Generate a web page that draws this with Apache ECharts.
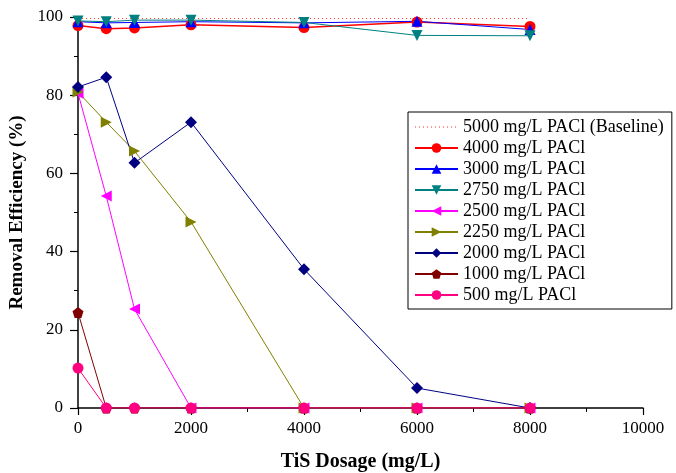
<!DOCTYPE html>
<html>
<head>
<meta charset="utf-8">
<script src="https://cdn.jsdelivr.net/npm/echarts@6/dist/echarts.min.js"></script>
<style>
  html, body { margin: 0; padding: 0; background: #fff; }
  #chart { width: 676px; height: 473px; }
</style>
</head>
<body>
<div id="chart"></div>
<script>
const dosages = [0, 500, 1000, 2000, 4000, 6000, 8000]

const baseline5000 = [99.6, 99.6, 99.6, 99.6, 99.6, 99.6, 99.6]
const pacl4000 = [97.8, 97.0, 97.2, 98.0, 97.3, 98.7, 97.6]
const pacl3000 = [98.8, 98.5, 98.6, 98.8, 98.5, 98.9, 96.8]
const pacl2750 = [99.0, 98.8, 99.2, 99.2, 98.6, 95.3, 95.2]
const pacl2500 = [80.5, 54.2, 25.3, 0, 0, 0, 0]
const pacl2250 = [80.8, 73.1, 65.7, 47.6, 0, 0, 0]
const pacl2000 = [82.1, 84.6, 62.7, 73.1, 35.5, 5.1, 0]
const pacl1000 = [24.4, 0, 0, 0, 0, 0, 0]
const pacl500 = [10.2, 0, 0, 0, 0, 0, 0]

const FONT = '"Liberation Serif", "Times New Roman", serif'
const PENTAGON = 'path://M0,-1 L0.951,-0.309 L0.588,0.809 L-0.588,0.809 L-0.951,-0.309 Z'
const BASE_RED = '#ff3030'

function pairs(vals) {
  return dosages.map((d, i) => [d, vals[i]])
}

function lineSeries(name, vals, color, symbol, rotate, size) {
  return {
    name,
    type: 'line',
    data: pairs(vals),
    symbol,
    symbolRotate: rotate || 0,
    symbolSize: size || 11,
    lineStyle: { width: 1, color },
    itemStyle: { color },
    emphasis: { disabled: true },
    animation: false
  }
}

const series = [
  {
    name: '5000 mg/L PACl (Baseline)',
    type: 'line',
    data: pairs(baseline5000),
    symbol: 'none',
    lineStyle: { width: 1, type: [1, 3], color: BASE_RED },
    itemStyle: { color: BASE_RED },
    animation: false
  },
  lineSeries('4000 mg/L PACl', pacl4000, '#ff0000', 'circle', 0, 11),
  lineSeries('3000 mg/L PACl', pacl3000, '#0000ff', 'triangle', 0, 11),
  lineSeries('2750 mg/L PACl', pacl2750, '#008080', 'triangle', 180, 11),
  lineSeries('2500 mg/L PACl', pacl2500, '#ff00ff', 'triangle', 90, 11),
  lineSeries('2250 mg/L PACl', pacl2250, '#808000', 'triangle', -90, 11),
  lineSeries('2000 mg/L PACl', pacl2000, '#000080', 'diamond', 0, 12),
  lineSeries('1000 mg/L PACl', pacl1000, '#800000', PENTAGON, 0, 11),
  lineSeries('500 mg/L PACl', pacl500, '#ff0080', 'circle', 0, 11)
]
series[1].lineStyle.width = 1.5

// baseline entry shows only the dotted line, no marker
const legendData = series.map((s, i) =>
  i === 0
    ? { name: s.name, itemStyle: { opacity: 0 }, lineStyle: { color: BASE_RED, type: [1, 3], width: 1 } }
    : { name: s.name }
)

const chart = echarts.init(document.getElementById('chart'))
chart.setOption({
  backgroundColor: '#fff',
  animation: false,
  grid: { left: 78, right: 33, top: 17, bottom: 65, containLabel: false, outerBoundsMode: 'none' },
  legend: {
    orient: 'vertical',
    left: 408,
    top: 112,
    backgroundColor: '#fff',
    borderColor: '#000',
    borderWidth: 1,
    borderRadius: 0,
    padding: [6, 8, 5, 6],
    itemWidth: 43,
    itemHeight: 12,
    itemGap: 3,
    textStyle: { fontFamily: FONT, fontSize: 18, color: '#000' },
    data: legendData
  },
  xAxis: {
    type: 'value',
    min: 0,
    max: 10000,
    interval: 2000,
    name: 'TiS Dosage (mg/L)',
    nameLocation: 'center',
    nameGap: 44,
    nameTextStyle: { fontFamily: FONT, fontSize: 20, fontWeight: 'bold', color: '#000' },
    axisLine: { onZero: false, lineStyle: { color: '#000', width: 1.5 } },
    axisTick: { inside: false, length: 7, lineStyle: { color: '#000', width: 1.2 } },
    minorTick: { show: true, splitNumber: 2, length: 4, lineStyle: { color: '#000', width: 1 } },
    axisLabel: { fontFamily: FONT, fontSize: 17, color: '#000', margin: 12, formatter: v => String(v) },
    splitLine: { show: false }
  },
  yAxis: {
    type: 'value',
    min: 0,
    max: 100,
    interval: 20,
    name: 'Removal Efficiency (%)',
    nameLocation: 'center',
    nameGap: 50,
    nameTextStyle: { fontFamily: FONT, fontSize: 19, fontWeight: 'bold', color: '#000' },
    axisLine: { show: true, lineStyle: { color: '#000', width: 1.5 } },
    axisTick: { show: true, inside: false, length: 8, lineStyle: { color: '#000', width: 1.2 } },
    minorTick: { show: true, splitNumber: 2, length: 4, lineStyle: { color: '#000', width: 1 } },
    axisLabel: { fontFamily: FONT, fontSize: 17, color: '#000', margin: 15 },
    splitLine: { show: false }
  },
  series
})
</script>
</body>
</html>
